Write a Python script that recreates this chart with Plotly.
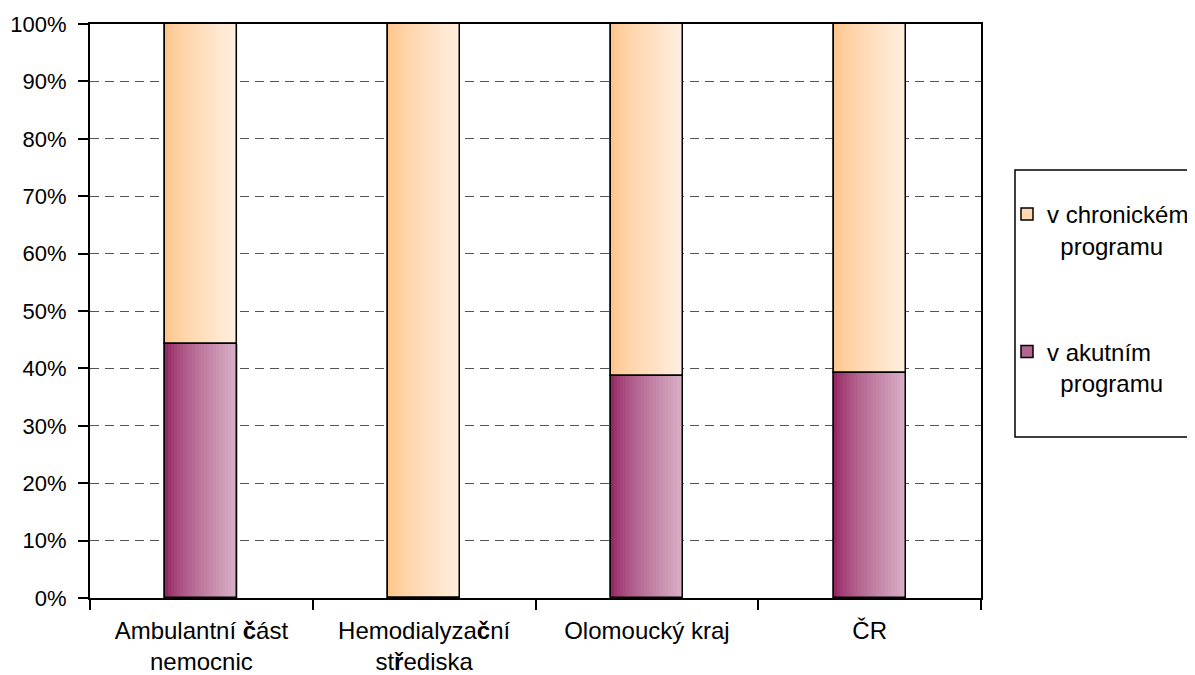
import plotly.graph_objects as go

categories = ["Ambulantní <b>č</b>ást<br>nemocnic", "Hemodialyza<b>č</b>ní<br>st<b>ř</b>ediska", "Olomoucký kraj", "ČR"]
acute = [44.2, 0.0, 38.7, 39.2]
chronic = [55.8, 100.0, 61.3, 60.8]
series_names = ["v akutním<br>\u00a0\u00a0programu", "v chronickém<br>\u00a0\u00a0programu"]
y_ticks = [0, 10, 20, 30, 40, 50, 60, 70, 80, 90, 100]
y_labels = [f"{v}%" for v in y_ticks]

FONT = "Liberation Sans, Arial, sans-serif"
BAR_W = 0.323
N_SLICES = 24

def lerp(c1, c2, t):
    return "rgb(%d,%d,%d)" % tuple(round(a + (b - a) * t) for a, b in zip(c1, c2))

grad = {
    "acute": ((150, 40, 100), (216, 174, 198)),
    "chronic": ((255, 198, 140), (255, 238, 222)),
}

fig = go.Figure()

stacks = [("acute", acute, [0] * len(acute), series_names[0], 2),
          ("chronic", chronic, acute, series_names[1], 1)]

for key, vals, base, name, rank in stacks:
    c1, c2 = grad[key]
    fig.add_trace(go.Bar(
        x=categories, y=vals, base=base, width=BAR_W, name=name,
        marker=dict(color=lerp(c1, c2, 0.45), line=dict(color="black", width=1.5)),
        legendgroup=key, legendrank=rank, showlegend=True, hoverinfo="skip"))

for key, vals, base, name, rank in stacks:
    c1, c2 = grad[key]
    sw = BAR_W / N_SLICES
    for i in range(N_SLICES):
        t = (i / (N_SLICES - 1)) ** 0.75
        fig.add_trace(go.Bar(
            x=categories, y=vals, base=base, width=sw * 1.05,
            offset=-BAR_W / 2 + i * sw,
            marker=dict(color=lerp(c1, c2, t), line=dict(width=0)),
            showlegend=False, hoverinfo="skip"))

for key, vals, base, name, rank in stacks:
    fig.add_trace(go.Bar(
        x=categories, y=vals, base=base, width=BAR_W,
        marker=dict(color="rgba(0,0,0,0)", line=dict(color="black", width=1.5)),
        showlegend=False, hoverinfo="skip"))

# page body adds an 8px offset; compensate
OFF = 8
W, H = 1195 - OFF, 675 - OFF
L, T, PW, PH = 90 - OFF, 24 - OFF, 891, 574

def px_x(p):
    return (p - OFF - L) / PW

def px_y(p):
    return (T + PH - (p - OFF)) / PH

fig.add_shape(type="rect", xref="paper", yref="paper",
              x0=px_x(1015), x1=px_x(1215), y0=px_y(437), y1=px_y(170),
              line=dict(color="black", width=1.5), fillcolor="white", layer="below")

LEG_FS = 24
fig.update_layout(
    barmode="overlay",
    width=W, height=H,
    margin=dict(l=L, r=W - L - PW, t=T, b=H - T - PH),
    plot_bgcolor="rgba(0,0,0,0)", paper_bgcolor="white",
    font=dict(family=FONT, size=22, color="black"),
    showlegend=True,
    legend=dict(
        xref="container", yref="container",
        x=(1007 - OFF) / W, y=1 - (192 - OFF) / H, xanchor="left", yanchor="top",
        traceorder="grouped", tracegroupgap=72, valign="top",
        borderwidth=0, bgcolor="rgba(0,0,0,0)",
        font=dict(family=FONT, size=LEG_FS), itemwidth=30,
    ),
    xaxis=dict(
        type="category", tickson="boundaries", ticks="outside", ticklen=10,
        tickwidth=1.5, tickcolor="black", showline=True, linecolor="black",
        linewidth=2, mirror=True, showgrid=False, automargin=False,
        ticklabelstandoff=10,
        tickfont=dict(family=FONT, size=24),
    ),
    yaxis=dict(
        range=[0, 100], tickvals=y_ticks, ticktext=y_labels,
        ticks="outside", ticklen=10, tickwidth=1.5, tickcolor="black",
        showline=True, linecolor="black", linewidth=2, mirror=True,
        showgrid=True, gridcolor="#555555", griddash="9px,6px", gridwidth=1,
        zeroline=False, automargin=False, ticklabelstandoff=7,
        tickfont=dict(family=FONT, size=22),
    ),
    bargap=0,
)

fig.write_html("out.html")
